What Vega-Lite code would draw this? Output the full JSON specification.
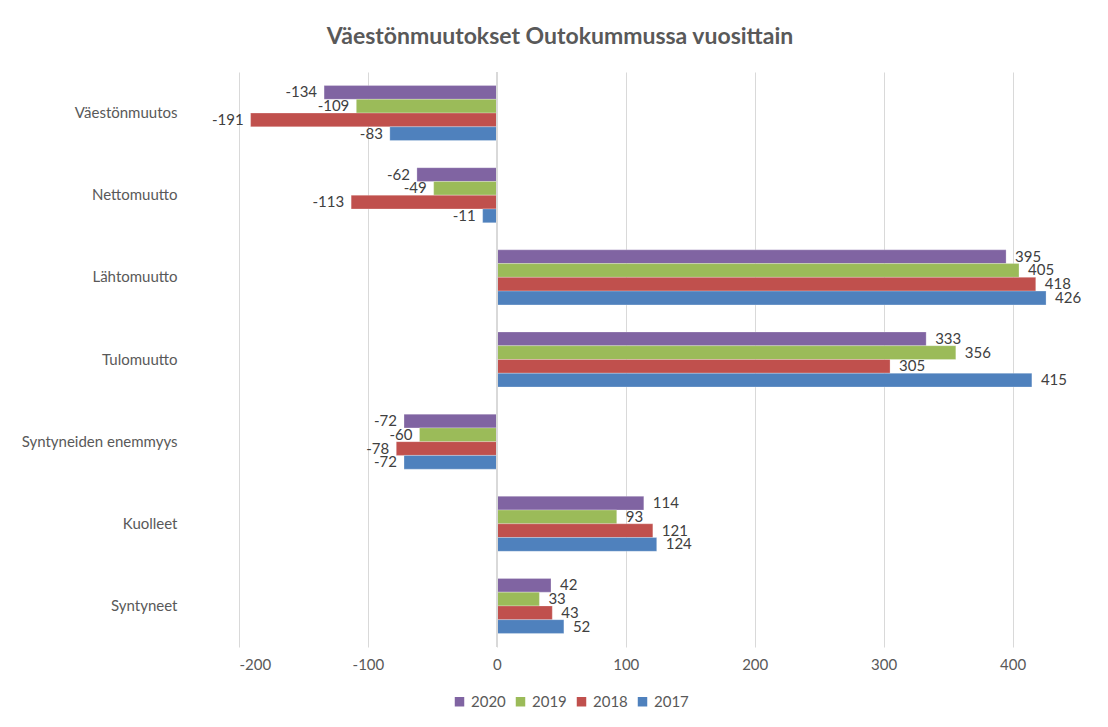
{
  "$schema": "https://vega.github.io/schema/vega-lite/v6.json",
  "width": 838,
  "height": 575,
  "autosize": "none",
  "padding": {"left": 239, "top": 72, "right": 31, "bottom": 80},
  "background": "white",
  "config": {
    "font": "Lato",
    "view": {"stroke": null},
    "axis": {"labelFont": "Lato", "labelColor": "#595959", "labelFontSize": 15},
    "legend": {"labelFont": "Lato", "labelColor": "#595959", "labelFontSize": 15}
  },
  "title": {
    "text": "Väestönmuutokset Outokummussa vuosittain",
    "font": "Lato",
    "fontSize": 23,
    "fontWeight": "bold",
    "color": "#595959",
    "anchor": "middle",
    "dx": -98,
    "offset": 23
  },
  "data": {
    "values": [
      {"kategoria": "Väestönmuutos", "vuosi": "2020", "arvo": -134},
      {"kategoria": "Väestönmuutos", "vuosi": "2019", "arvo": -109},
      {"kategoria": "Väestönmuutos", "vuosi": "2018", "arvo": -191},
      {"kategoria": "Väestönmuutos", "vuosi": "2017", "arvo": -83},
      {"kategoria": "Nettomuutto", "vuosi": "2020", "arvo": -62},
      {"kategoria": "Nettomuutto", "vuosi": "2019", "arvo": -49},
      {"kategoria": "Nettomuutto", "vuosi": "2018", "arvo": -113},
      {"kategoria": "Nettomuutto", "vuosi": "2017", "arvo": -11},
      {"kategoria": "Lähtomuutto", "vuosi": "2020", "arvo": 395},
      {"kategoria": "Lähtomuutto", "vuosi": "2019", "arvo": 405},
      {"kategoria": "Lähtomuutto", "vuosi": "2018", "arvo": 418},
      {"kategoria": "Lähtomuutto", "vuosi": "2017", "arvo": 426},
      {"kategoria": "Tulomuutto", "vuosi": "2020", "arvo": 333},
      {"kategoria": "Tulomuutto", "vuosi": "2019", "arvo": 356},
      {"kategoria": "Tulomuutto", "vuosi": "2018", "arvo": 305},
      {"kategoria": "Tulomuutto", "vuosi": "2017", "arvo": 415},
      {"kategoria": "Syntyneiden enemmyys", "vuosi": "2020", "arvo": -72},
      {"kategoria": "Syntyneiden enemmyys", "vuosi": "2019", "arvo": -60},
      {"kategoria": "Syntyneiden enemmyys", "vuosi": "2018", "arvo": -78},
      {"kategoria": "Syntyneiden enemmyys", "vuosi": "2017", "arvo": -72},
      {"kategoria": "Kuolleet", "vuosi": "2020", "arvo": 114},
      {"kategoria": "Kuolleet", "vuosi": "2019", "arvo": 93},
      {"kategoria": "Kuolleet", "vuosi": "2018", "arvo": 121},
      {"kategoria": "Kuolleet", "vuosi": "2017", "arvo": 124},
      {"kategoria": "Syntyneet", "vuosi": "2020", "arvo": 42},
      {"kategoria": "Syntyneet", "vuosi": "2019", "arvo": 33},
      {"kategoria": "Syntyneet", "vuosi": "2018", "arvo": 43},
      {"kategoria": "Syntyneet", "vuosi": "2017", "arvo": 52}
    ]
  },
  "encoding": {
    "y": {
      "field": "kategoria",
      "type": "nominal",
      "sort": ["Väestönmuutos", "Nettomuutto", "Lähtomuutto", "Tulomuutto", "Syntyneiden enemmyys", "Kuolleet", "Syntyneet"],
      "scale": {"paddingInner": 0.33, "paddingOuter": 0.165},
      "axis": {"title": null, "domain": false, "ticks": false, "labelPadding": 62, "grid": false}
    },
    "yOffset": {
      "field": "vuosi",
      "type": "nominal",
      "sort": ["2020", "2019", "2018", "2017"],
      "scale": {"paddingInner": 0, "paddingOuter": 0}
    }
  },
  "layer": [
    {
      "mark": {"type": "bar", "stroke": "white", "strokeOpacity": 0.5, "strokeWidth": 0.5},
      "encoding": {
        "x": {
          "field": "arvo",
          "type": "quantitative",
          "scale": {"domain": [-200, 450], "nice": false, "zero": false},
          "axis": {
            "title": null,
            "values": [-200, -100, 0, 100, 200, 300, 400],
            "labelExpr": "'' + datum.value",
            "domain": false,
            "ticks": false,
            "labelPadding": 10,
            "grid": true,
            "gridColor": "#D9D9D9",
            "gridWidth": 1
          }
        },
        "color": {
          "field": "vuosi",
          "type": "nominal",
          "scale": {"domain": ["2020", "2019", "2018", "2017"], "range": ["#8064A2", "#9BBB59", "#C0504D", "#4F81BD"]},
          "legend": {
            "title": null,
            "orient": "none",
            "direction": "horizontal",
            "legendX": 213,
            "legendY": 622,
            "symbolType": "square",
            "symbolSize": 90,
            "symbolStrokeWidth": 0,
            "columnPadding": 7,
            "labelOffset": 4
          }
        }
      }
    },
    {
      "mark": {"type": "rule", "color": "#D9D9D9", "strokeWidth": 1},
      "encoding": {"x": {"datum": 0}, "y": null, "yOffset": null}
    },
    {
      "transform": [{"filter": "datum.arvo >= 0"}],
      "mark": {"type": "text", "align": "left", "dx": 9, "fontSize": 15, "color": "#404040", "font": "Lato"},
      "encoding": {
        "x": {"field": "arvo", "type": "quantitative"},
        "text": {"field": "arvo", "type": "nominal"}
      }
    },
    {
      "transform": [{"filter": "datum.arvo < 0"}],
      "mark": {"type": "text", "align": "right", "dx": -7, "fontSize": 15, "color": "#404040", "font": "Lato"},
      "encoding": {
        "x": {"field": "arvo", "type": "quantitative"},
        "text": {"field": "arvo", "type": "nominal"}
      }
    }
  ]
}
